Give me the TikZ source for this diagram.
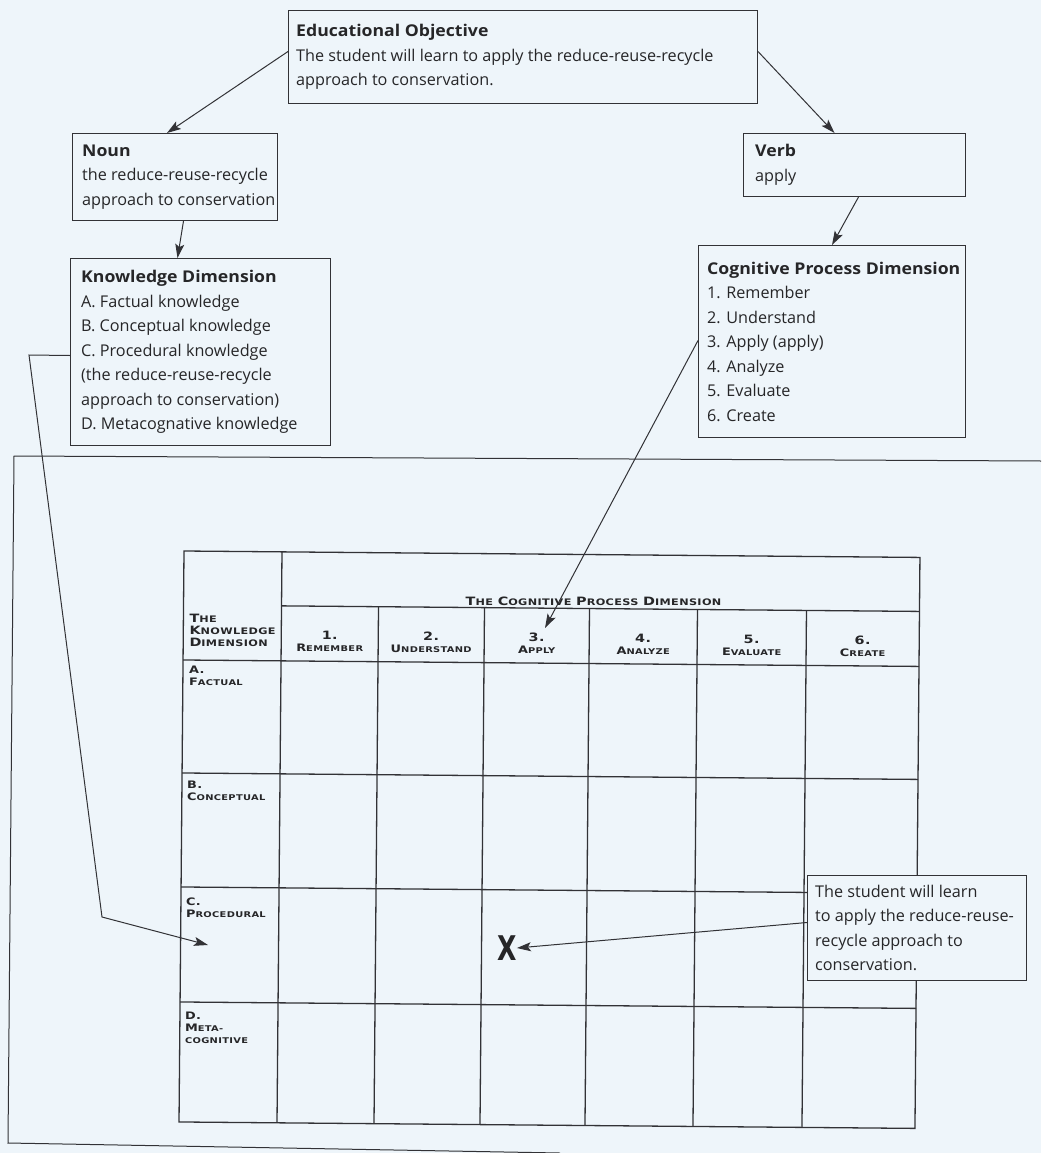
\documentclass[tikz,border=0pt]{standalone}
\usepackage{fontspec}
\setmainfont{Open Sans}[BoldFeatures={FakeStretch=1.09}]
\newfontfamily\tabfont[FakeStretch=1.25,LetterSpace=4]{DejaVu Sans}
\newfontfamily\xfont{DejaVu Sans}
\usetikzlibrary{arrows.meta,calc}

\definecolor{bg}{RGB}{238,245,250}
\definecolor{ink}{RGB}{38,38,40}
\definecolor{rule}{RGB}{50,50,54}

\newcommand\boxfont{\fontsize{16.2}{24.5}\selectfont}
% large and small capitals for the table headings
\newcommand\tcapbig{\fontsize{11.5}{15.5}\selectfont}
\newcommand\tcapsmall{\fontsize{9}{15.5}\selectfont}
\newcommand\tsc[2]{{\tcapbig #1}{\tcapsmall #2}}
% slightly smaller ones for column and row labels
\newcommand\lcapbig{\fontsize{10.3}{15.5}\selectfont}
\newcommand\lcapsmall{\fontsize{7.9}{15.5}\selectfont}
\newcommand\lsc[2]{{\lcapbig #1}{\lcapsmall #2}}

\tikzset{
  x=1pt, y=-1pt,
  box/.style={draw=rule, line width=1pt, fill=bg, inner sep=0pt, anchor=north west},
  boxtext/.style={inner sep=0pt, anchor=west, align=left, font=\boxfont, text=ink},
  grid/.style={draw=rule, line width=1.3pt},
  thead/.style={inner sep=0pt, align=center, font=\tabfont\bfseries, text=ink},
  rowlab/.style={inner sep=0pt, align=left, anchor=west, font=\tabfont\bfseries, text=ink},
  arr/.style={draw=rule, line width=1pt, -{Stealth[length=14pt,width=9pt,inset=3pt]}},
  frame/.style={draw=rule, line width=1pt},
}

\begin{document}
\begin{tikzpicture}
\fill[bg] (0,0) rectangle (1041,1153);
\useasboundingbox (0,0) rectangle (1041,1153);

% outer frame around the table
\draw[frame] (1041,461) -- (14,456) -- (8,1143) -- (560,1153);

% ---------- upper concept boxes ----------
\node[box, minimum width=469pt, minimum height=93pt] (eo) at (288,10) {};
\node[boxtext] (eot) at ([xshift=8pt]eo.west)
  {\textbf{Educational Objective}\\
   The student will learn to apply the reduce-reuse-recycle\\
   approach to conservation.};

\node[box, minimum width=205pt, minimum height=87pt] (noun) at (72,133) {};
\node[boxtext] (nount) at ([xshift=10pt]noun.west)
  {\textbf{Noun}\\ the reduce-reuse-recycle\\ approach to conservation};

\node[box, minimum width=260pt, minimum height=187pt] (kd) at (70,258) {};
\node[boxtext] (kdt) at ([xshift=11pt]kd.west)
  {\textbf{Knowledge Dimension}\\
   A. Factual knowledge\\
   B. Conceptual knowledge\\
   C. Procedural knowledge\\
   (the reduce-reuse-recycle\\
   approach to conservation)\\
   D. Metacognative knowledge};

\node[box, minimum width=222pt, minimum height=63pt] (verb) at (743,133) {};
\node[boxtext] (verbt) at ([xshift=12pt]verb.west) {\textbf{Verb}\\ apply};

\node[box, minimum width=267pt, minimum height=192pt] (cpd) at (698,245) {};
\node[boxtext] (cpdt) at ([xshift=9pt]cpd.west)
  {\textbf{Cognitive Process Dimension}\\
   1. Remember\\ 2. Understand\\ 3. Apply (apply)\\
   4. Analyze\\ 5. Evaluate\\ 6. Create};

% ---------- taxonomy table ----------
\begin{scope}[shift={(184,551)}, rotate=-0.5]
  % outline and rules
  \draw[grid] (0,0) rectangle (736,571);
  \draw[grid] (98,54) -- (736,54);
  \draw[grid] (0,109) -- (736,109);
  \foreach \yy in {222,336,451} \draw[grid] (0,\yy) -- (736,\yy);
  \draw[grid] (98,0) -- (98,571);
  \foreach \xx in {195,301,406,514,623} \draw[grid] (\xx,54) -- (\xx,571);

  % headings
  \node[thead] (cpdhead) at (410,47)
    {\tsc{T}{HE} \tsc{C}{OGNITIVE} \tsc{P}{ROCESS} \tsc{D}{IMENSION}};
  \node[rowlab] (kdhead) at (6,79.5)
    {\tsc{T}{HE}\\ \tsc{K}{NOWLEDGE}\\ \tsc{D}{IMENSION}};

  \node[thead] (c1) at (146.5,89.5) {{\tcapbig 1.}\\ \lsc{R}{EMEMBER}};
  \node[thead] (c2) at (248,89.5)   {{\tcapbig 2.}\\ \lsc{U}{NDERSTAND}};
  \node[thead] (c3) at (353.5,89.5) {{\tcapbig 3.}\\ \lsc{A}{PPLY}};
  \node[thead] (c4) at (460,89.5)   {{\tcapbig 4.}\\ \lsc{A}{NALYZE}};
  \node[thead] (c5) at (568.5,89.5) {{\tcapbig 5.}\\ \lsc{E}{VALUATE}};
  \node[thead] (c6) at (679.5,89.5) {{\tcapbig 6.}\\ \lsc{C}{REATE}};

  \node[rowlab] (ra) at (6,125)   {{\lcapbig A.}\\ \lsc{F}{ACTUAL}};
  \node[rowlab] (rb) at (5,239.5) {{\lcapbig B.}\\ \lsc{C}{ONCEPTUAL}};
  \node[rowlab] (rc) at (5,356.5) {{\lcapbig C.}\\ \lsc{P}{ROCEDURAL}};
  \node[rowlab] (rd) at (5,477)   {{\lcapbig D.}\\ \lsc{M}{ETA-}\\ \lsc{}{COGNITIVE}};
\end{scope}

% placement mark and note
\node[inner sep=0pt, text=ink] (xmark) at (507,948)
  {\xfont\bfseries\fontsize{34}{34}\selectfont\scalebox{0.74}[1]{X}};

\node[box, minimum width=219pt, minimum height=105pt] (stu) at (807,875) {};
\node[boxtext] (stut) at ([xshift=8pt]stu.west)
  {The student will learn\\ to apply the reduce-reuse-\\ recycle approach to\\ conservation.};

\coordinate (kdbend1) at (29,355);
\coordinate (kdbend2) at (102,917);
\coordinate (cellC) at (208,945);
\coordinate (applytip) at (545,628);

% ---------- connectors ----------
\draw[arr] ([yshift=5.5pt]eo.west) -- ([xshift=-8pt]noun.north);
\draw[arr] ([yshift=5.5pt]eo.east) -- ([xshift=-20pt]verb.north);
\draw[arr] ([xshift=8.5pt]noun.south) -- ([xshift=-23pt]kd.north);
\draw[arr] ([xshift=4pt]verb.south) -- (cpd.north);
\draw[arr] ([yshift=1pt]cpd.west) -- (applytip);
\draw[arr] ([yshift=-3.5pt]kd.west) -- (kdbend1) -- (kdbend2) -- (cellC);
\draw[arr] ([yshift=5.5pt]stu.west) -- (xmark.east);
\end{tikzpicture}
\end{document}
